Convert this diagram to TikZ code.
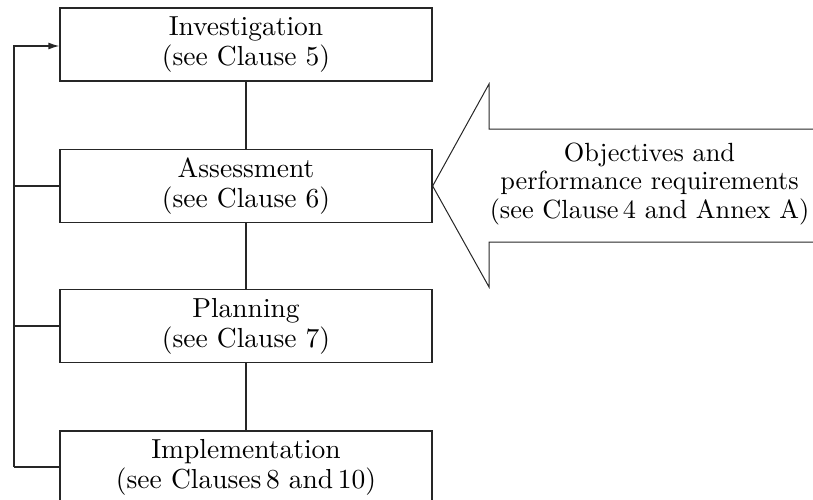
\documentclass[tikz,border=0pt]{standalone}
\usepackage{fontspec}
\setmainfont{lmroman10-regular.otf}
\usetikzlibrary{arrows.meta}
\begin{document}
\begin{tikzpicture}[x=1pt,y=-1pt,
  stagebox/.style={draw=black!85,line width=1.3pt,minimum width=372pt,minimum height=73pt,
    align=center,inner sep=0pt,font=\fontsize{27.5}{30}\selectfont},
  link/.style={draw=black!85,line width=1.3pt},
  txt/.style={align=center,inner sep=0pt,font=\fontsize{26.3}{28.5}\selectfont}]
\clip (0,0) rectangle (813,499);
\node[stagebox] (inv) at (246,44.5) {Investigation\\(see Clause 5)};
\node[stagebox] (ass) at (246,186) {Assessment\\(see Clause 6)};
\node[stagebox] (pla) at (246,326) {Planning\\(see Clause 7)};
\node[stagebox] (imp) at (246,467.5) {Implementation\\(see Clauses\,8 and\,10)};
\draw[link] (inv) -- (ass);
\draw[link] (ass) -- (pla);
\draw[link] (pla) -- (imp);
\coordinate (fa) at (14,46);
\coordinate (fb) at (14,467);
\draw[link,-{Latex[length=11pt,width=7pt]}] (fb) -- (fa) -- (inv.west |- fa);
\draw[link] (14,186) -- (ass.west);
\draw[link] (14,326) -- (pla.west);
\draw[link] (fb) -- (imp.west |- fb);
% big input arrow
\coordinate (tip) at (ass.east);
\draw[draw=black!85,line width=1pt]
  (820,129) -- (489,129) -- (489,84) -- (tip) -- (489,287) -- (489,242) -- (820,242);
\node[txt] (obj) at (649.5,184) {Objectives and\\performance requirements\\(see Clause\,4 and Annex A)};
\end{tikzpicture}
\end{document}
